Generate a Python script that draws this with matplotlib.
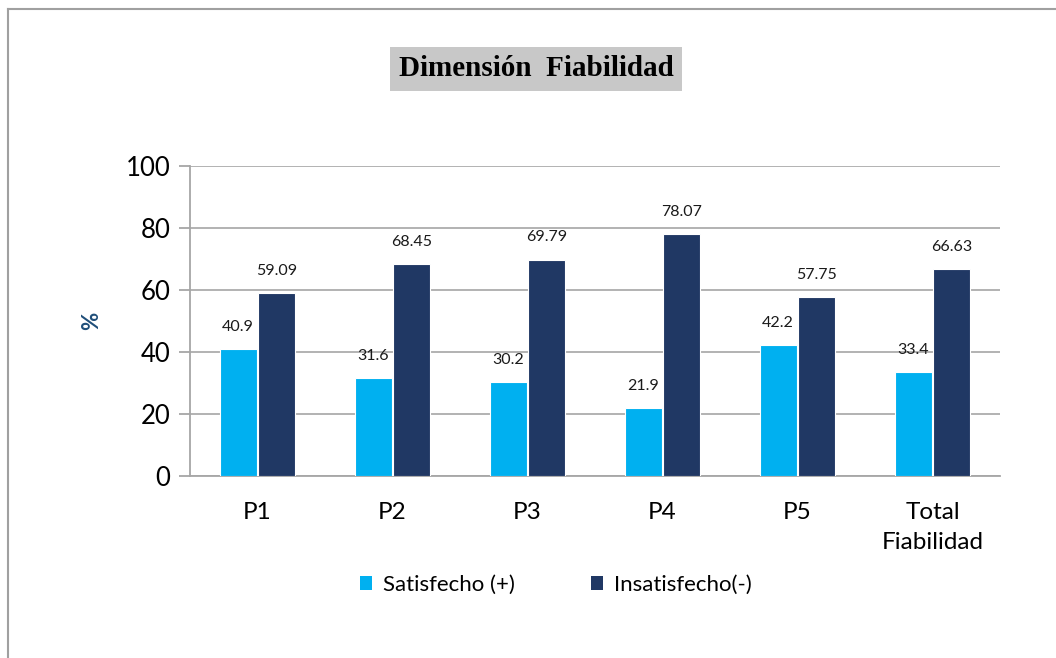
import matplotlib
matplotlib.use("Agg")
import matplotlib.pyplot as plt
import numpy as np
from matplotlib.patches import Patch
from matplotlib.lines import Line2D

categories = ["P1", "P2", "P3", "P4", "P5", "Total\nFiabilidad"]
satisfecho = [40.9, 31.6, 30.2, 21.9, 42.2, 33.4]
insatisfecho = [59.09, 68.45, 69.79, 78.07, 57.75, 66.63]
sat_labels = ["40.9", "31.6", "30.2", "21.9", "42.2", "33.4"]
ins_labels = ["59.09", "68.45", "69.79", "78.07", "57.75", "66.63"]
yticks = [0, 20, 40, 60, 80, 100]
series_names = ["Satisfecho (+)", "Insatisfecho(-)"]
title = "Dimensión  Fiabilidad"

c_sat = "#00B0F0"
c_ins = "#203864"
grid_c = "#A6A6A6"
font = ["Lato", "DejaVu Sans"]

plt.rcParams["font.family"] = font

W, H = 1056, 658
fig = plt.figure(figsize=(W / 100, H / 100), dpi=100)
ax = fig.add_axes([190 / W, 1 - 476 / H, 810 / W, 310 / H])

x = np.arange(len(categories))
bw = 0.274
off = 0.144
ax.bar(x - off, satisfecho, bw, color=c_sat, edgecolor="white", linewidth=0.8, zorder=3)
ax.bar(x + off, insatisfecho, bw, color=c_ins, edgecolor="white", linewidth=0.8, zorder=3)

for xi, v, s in zip(x - off, satisfecho, sat_labels):
    ax.annotate(s, (xi, v), xytext=(0, 16), textcoords="offset points",
                ha="center", va="center", fontsize=11.5, color="#1a1a1a")
for xi, v, s in zip(x + off, insatisfecho, ins_labels):
    ax.annotate(s, (xi, v), xytext=(0, 16), textcoords="offset points",
                ha="center", va="center", fontsize=11.5, color="#1a1a1a")

ax.set_xlim(-0.5, len(categories) - 0.5)
ax.set_ylim(0, 100)
ax.set_yticks(yticks)
ax.set_yticklabels([str(t) for t in yticks], fontsize=18.5)
ax.set_xticks(x)
ax.set_xticklabels(categories, fontsize=17.5, linespacing=1.5)
ax.tick_params(axis="x", length=0, pad=19)
ax.tick_params(axis="y", length=8, width=1.3, color=grid_c, pad=6)
ax.yaxis.grid(True, color=grid_c, linewidth=1.2, zorder=0)
ax.set_axisbelow(True)
for s in ["top", "right"]:
    ax.spines[s].set_visible(False)
for s in ["left", "bottom"]:
    ax.spines[s].set_color(grid_c)
    ax.spines[s].set_linewidth(1.3)

ax.set_ylabel("%", fontsize=16, fontweight="bold", color="#1F4E79")
ax.yaxis.set_label_coords(-(190 - 102) / 810, 0.5)

# title with gray box
fig.text(536 / W, 1 - 69 / H, title, ha="center", va="center",
         fontsize=21, fontweight="bold", family=["Liberation Serif", "DejaVu Serif"],
         color="black",
         bbox=dict(boxstyle="square,pad=0.3", facecolor="#C8C8C8", edgecolor="none"))

handles = [Patch(facecolor=c_sat, edgecolor="none"), Patch(facecolor=c_ins, edgecolor="none")]
fig.legend(handles, series_names, loc="center", bbox_to_anchor=(556 / W, 1 - 585 / H),
           ncol=2, frameon=False, fontsize=16, handlelength=0.55, handleheight=0.55,
           handletextpad=0.5, columnspacing=3.4)

# outer border (left and top only)
fig.add_artist(Line2D([8 / W, 8 / W], [0, 1 - 8.5 / H], color="#A0A0A0", linewidth=1.5,
                      transform=fig.transFigure))
fig.add_artist(Line2D([8 / W, 1], [1 - 8.5 / H, 1 - 8.5 / H], color="#A0A0A0", linewidth=1.5,
                      transform=fig.transFigure))

fig.savefig("out.png", dpi=100, facecolor="white")
